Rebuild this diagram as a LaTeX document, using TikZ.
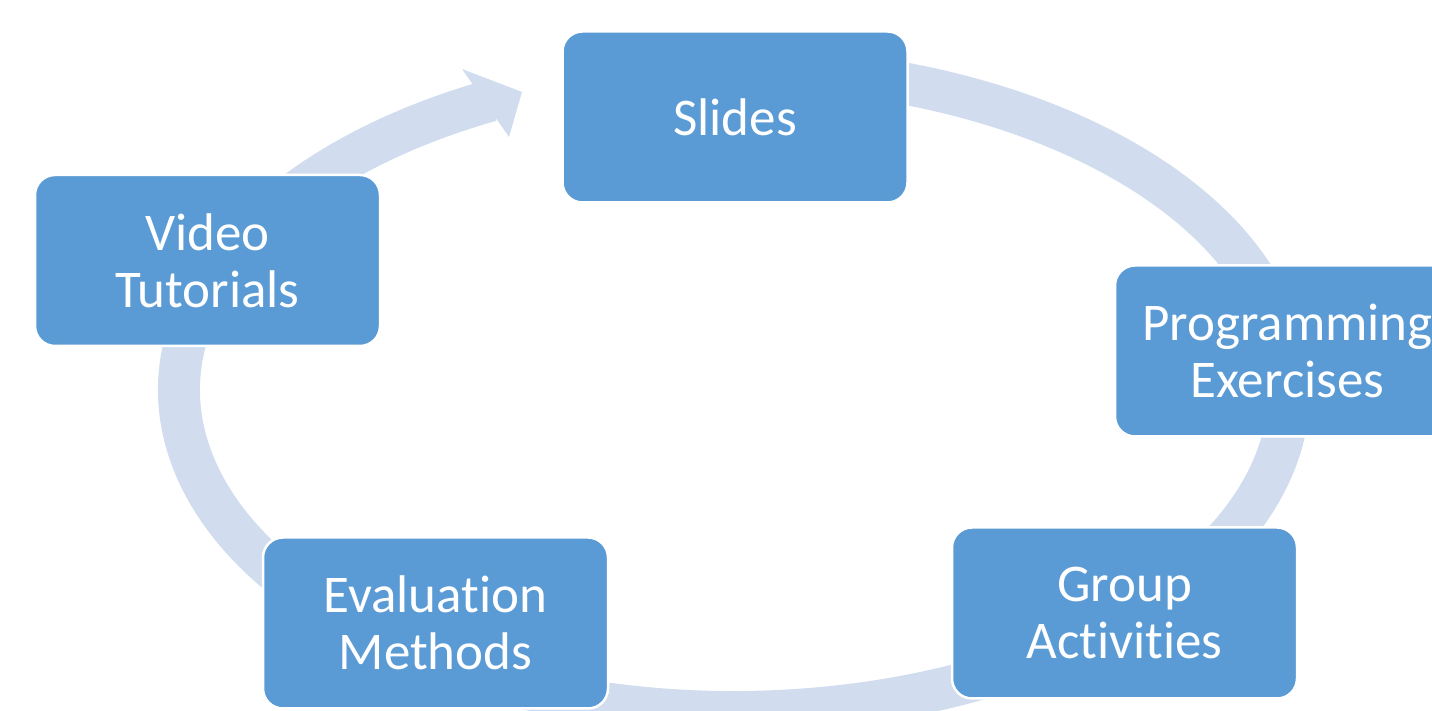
\documentclass[tikz,border=0pt]{standalone}
\usepackage{fontspec}
\setmainfont{Carlito}[Ligatures={NoCommon,NoRare}]
\definecolor{boxblue}{RGB}{91,155,213}
\definecolor{ringblue}{RGB}{209,221,238}
\begin{document}
\begin{tikzpicture}[x=1pt,y=1pt,
  stagebox/.style={draw=white, line width=2.5pt, fill=boxblue, rounded corners=20pt,
    minimum width=345pt, minimum height=171pt, inner sep=0pt, align=center,
    text=white, font=\fontsize{53}{57}\selectfont},
  ringband/.style={draw=ringblue, line width=42pt, line cap=butt},
  ringhead/.style={fill=ringblue}]
\useasboundingbox (0,0) rectangle (1432,711);
\clip (0,0) rectangle (1432,711);

% cycle band: elliptical arc running clockwise, ending in an arrow head
\coordinate (ringc) at (734,321);
\draw[ringband] ([shift={(100:555pt and 322pt)}]ringc)
  arc[start angle=100, end angle=-244, x radius=555pt, y radius=322pt];
\coordinate (headA) at (462,642);
\coordinate (headTip) at (522,619);
\coordinate (headB) at (509,574);
\fill[ringhead] (headA) -- (headTip) -- (headB) -- cycle;

% stages
\node[stagebox] (slides) at (735,594) {Slides};
\node[stagebox] (prog) at (1287.5,360) {Programming\\Exercises};
\node[stagebox] (group) at (1124.5,98) {Group\\Activities};
\node[stagebox] (eval) at (435.5,88) {Evaluation\\Methods};
\node[stagebox] (video) at (207.5,450.5) {Video\\Tutorials};
\end{tikzpicture}
\end{document}
